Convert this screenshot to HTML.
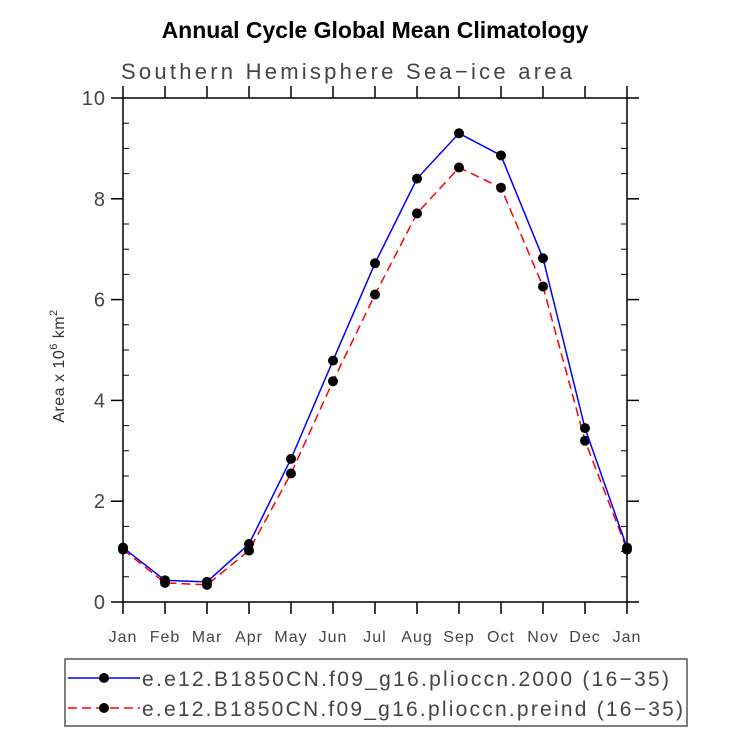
<!DOCTYPE html>
<html><head><meta charset="utf-8"><style>
html,body{margin:0;padding:0;background:#fff;width:733px;height:747px;overflow:hidden}
svg text{font-family:"Liberation Sans",sans-serif}
</style></head><body>
<svg id="chart" width="733" height="747" viewBox="0 0 733 747" xmlns="http://www.w3.org/2000/svg">
<text x="375" y="38" text-anchor="middle" font-size="23" font-weight="bold" fill="#000">Annual Cycle Global Mean Climatology</text>
<text x="121" y="79" font-size="22" fill="#444" textLength="451" lengthAdjust="spacing">Southern Hemisphere Sea−ice area</text>
<text transform="translate(64,366) rotate(-90)" text-anchor="middle" font-size="16" fill="#333" letter-spacing="0.5">Area x 10<tspan dy="-7" font-size="11">6</tspan><tspan dy="7"> km</tspan><tspan dy="-7" font-size="11">2</tspan></text>
<g id="axes"></g>
<g id="series"></g>
<rect x="65" y="659" width="622" height="67" fill="none" stroke="#555" stroke-width="1.5"/>
<g>
<line x1="68" y1="678" x2="140" y2="678" stroke="#0000ff" stroke-width="1.5"/>
<circle cx="104" cy="678" r="5" fill="#000"/>
<text x="142" y="686" font-size="21" fill="#444" textLength="527" lengthAdjust="spacing">e.e12.B1850CN.f09_g16.plioccn.2000 (16−35)</text>
</g>
<g>
<line x1="68" y1="708" x2="140" y2="708" stroke="#ff0000" stroke-width="1.5" stroke-dasharray="9,5"/>
<circle cx="104" cy="708" r="5" fill="#000"/>
<text x="142" y="716" font-size="21" fill="#444" textLength="541" lengthAdjust="spacing">e.e12.B1850CN.f09_g16.plioccn.preind (16−35)</text>
</g>
</svg>
<script>
const months = ["Jan","Feb","Mar","Apr","May","Jun","Jul","Aug","Sep","Oct","Nov","Dec","Jan"];
const series2000 = [1.08,0.43,0.40,1.15,2.84,4.79,6.72,8.40,9.30,8.86,6.82,3.45,1.08];
const seriesPreind = [1.04,0.38,0.34,1.02,2.55,4.38,6.10,7.71,8.62,8.22,6.26,3.20,1.04];
const yTicks = [0,2,4,6,8,10];

const NS="http://www.w3.org/2000/svg";
const L=123,R=627,T=98,B=602;
const xs=i=>L+(R-L)*i/(months.length-1);
const ys=v=>B-(B-T)*v/10;
function mk(tag,attrs,parent){const e=document.createElementNS(NS,tag);for(const k in attrs)e.setAttribute(k,attrs[k]);parent.appendChild(e);return e;}
const axes=document.getElementById('axes');
const frame=mk('rect',{x:L,y:T,width:R-L,height:B-T,fill:'none',stroke:'#000','stroke-width':1.5},axes);


months.forEach((m,i)=>{
  const x=xs(i);
  mk('line',{x1:x,y1:B,x2:x,y2:B+12,stroke:'#000','stroke-width':1.5},axes);
  mk('line',{x1:x,y1:T,x2:x,y2:T-12,stroke:'#000','stroke-width':1.5},axes);
  const t=mk('text',{x:x,y:B+40,'text-anchor':'middle','font-size':16,fill:'#444','letter-spacing':1},axes);
  t.textContent=m;
  
  
});
for(let v=0;v<=10;v+=0.5){
  const y=ys(v);
  if(v%2===0){
    mk('line',{x1:L,y1:y,x2:L-12,y2:y,stroke:'#000','stroke-width':1.5},axes);
    mk('line',{x1:R,y1:y,x2:R+12,y2:y,stroke:'#000','stroke-width':1.5},axes);
  } else {
    mk('line',{x1:L,y1:y,x2:L+6,y2:y,stroke:'#000','stroke-width':1},axes);
    mk('line',{x1:R,y1:y,x2:R-6,y2:y,stroke:'#000','stroke-width':1},axes);
  }
}
yTicks.forEach(v=>{
  const t=mk('text',{x:L-17,y:ys(v)+7,'text-anchor':'end','font-size':20,fill:'#444','letter-spacing':1},axes);
  t.textContent=v;
  
  
});
const sg=document.getElementById('series');
function draw(vals,color,dash,name){
  const g=mk('g',{},sg);
  
  
  const pts=vals.map((v,i)=>xs(i)+','+ys(v)).join(' ');
  const a={points:pts,fill:'none',stroke:color,'stroke-width':1.5};
  if(dash)a['stroke-dasharray']=dash;
  mk('polyline',a,g);
  vals.forEach((v,i)=>{
    const c=mk('circle',{cx:xs(i),cy:ys(v),r:5,fill:'#000'},g);
    
    
  });
}
draw(seriesPreind,'#ff0000','9,5','series-preind');
draw(series2000,'#0000ff',null,'series-2000');
</script>
</body></html>
